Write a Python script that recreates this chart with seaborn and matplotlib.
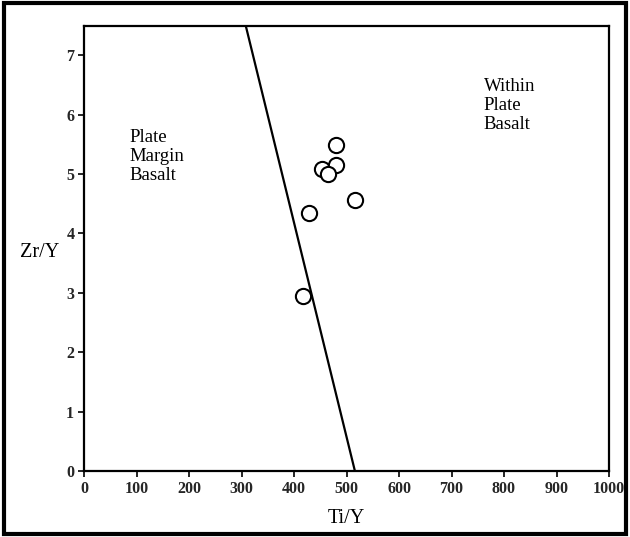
import matplotlib
matplotlib.use("Agg")
import matplotlib.pyplot as plt
from matplotlib.patches import Rectangle
import seaborn as sns
import pandas as pd

# Data
ti_y = [480, 453, 480, 465, 516, 429, 418]
zr_y = [5.48, 5.09, 5.15, 5.00, 4.57, 4.35, 2.95]
boundary_ti_y = [308, 516]
boundary_zr_y = [7.5, 0.0]
x_ticks = [0, 100, 200, 300, 400, 500, 600, 700, 800, 900, 1000]
y_ticks = [0, 1, 2, 3, 4, 5, 6, 7]

sns.set_theme(style="white")
plt.rcParams['font.family'] = ['Liberation Serif', 'DejaVu Serif']

fig = plt.figure(figsize=(6.3, 5.37), dpi=100)
ax = fig.add_axes([84/630, 1 - 471/537, (609-84)/630, (471-25.5)/537])

pts = pd.DataFrame({"Ti/Y": ti_y, "Zr/Y": zr_y})
line = pd.DataFrame({"Ti/Y": boundary_ti_y, "Zr/Y": boundary_zr_y})

sns.lineplot(data=line, x="Ti/Y", y="Zr/Y", ax=ax, color="black", lw=1.6, sort=False)
sns.scatterplot(data=pts, x="Ti/Y", y="Zr/Y", ax=ax, s=120, facecolor="white",
                edgecolor="black", linewidth=1.5, zorder=5)

ax.set_xlim(0, 1000)
ax.set_ylim(0, 7.5)
ax.set_xticks(x_ticks)
ax.set_yticks(y_ticks)
ax.tick_params(axis="both", direction="out", length=4, width=1.2, color="black",
               labelsize=11.5, pad=3, bottom=True, left=True)
for lab in ax.get_xticklabels() + ax.get_yticklabels():
    lab.set_fontweight("bold")

for s in ax.spines.values():
    s.set_color("black")
    s.set_linewidth(1.6)

ax.set_xlabel("Ti/Y", fontsize=14.5, labelpad=9, color="black")
ax.set_ylabel("Zr/Y", fontsize=14.5, rotation=0, color="black", labelpad=0)
ax.yaxis.set_label_coords(-0.085, 3.52/7.5)

ax.text(87, 5.30, "Plate\nMargin\nBasalt", fontsize=13.5, va="center", ha="left",
        linespacing=1.15, color="black")
ax.text(761, 6.16, "Within\nPlate\nBasalt", fontsize=13.5, va="center", ha="left",
        linespacing=1.15, color="black")

fig.patches.append(Rectangle((4/630, 3/537), 622/630, 531/537, transform=fig.transFigure,
                             fill=False, edgecolor="black", linewidth=3))

fig.savefig("out.png", dpi=100)
